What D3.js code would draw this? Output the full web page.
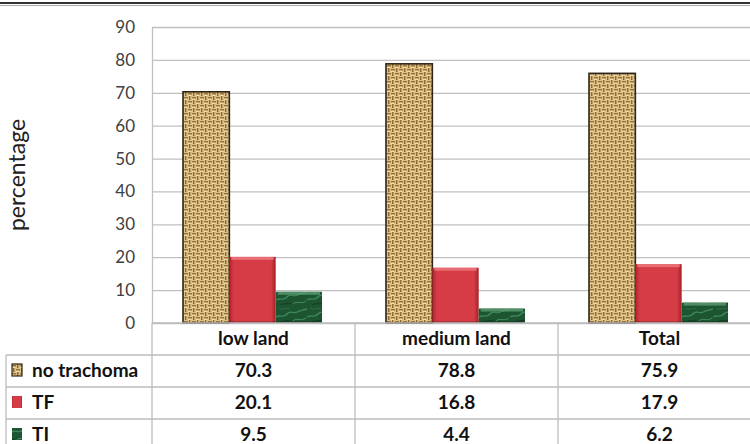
<!DOCTYPE html>
<html>
<head>
<meta charset="utf-8">
<script src="https://cdn.jsdelivr.net/npm/d3@7"></script>
<style>
  body { margin: 0; background: #fff; }
  text { font-family: Lato, "Open Sans", sans-serif; }
</style>
</head>
<body>
<div id="chart"></div>
<script>
const categories = ["low land", "medium land", "Total"];
const seriesNames = ["no trachoma", "TF", "TI"];
const noTrachoma = [70.3, 78.8, 75.9];
const tfValues = [20.1, 16.8, 17.9];
const tiValues = [9.5, 4.4, 6.2];
const yTickValues = [0, 10, 20, 30, 40, 50, 60, 70, 80, 90];

const seriesValues = [noTrachoma, tfValues, tiValues];

let width = 750, height = 444;
let plot = { left: 152, right: 761, top: 27, bottom: 323 };
let rowH = 32;

let svg = d3.select("#chart").append("svg")
  .attr("width", width)
  .attr("height", height);

let defs = svg.append("defs");

// wheat weave texture
let weave = defs.append("pattern")
  .attr("id", "weave").attr("patternUnits", "userSpaceOnUse")
  .attr("width", 8).attr("height", 8);
weave.append("rect").attr("width", 8).attr("height", 8).attr("fill", "#dcc088");
[[0, 1, 4, 1.4], [4, 5, 4, 1.4]].forEach(function (d) {
  weave.append("rect").attr("x", d[0]).attr("y", d[1]).attr("width", d[2]).attr("height", d[3]).attr("fill", "#9a7434");
});
[[5, 0, 1.4, 4], [1, 4, 1.4, 4]].forEach(function (d) {
  weave.append("rect").attr("x", d[0]).attr("y", d[1]).attr("width", d[2]).attr("height", d[3]).attr("fill", "#8d692e");
});
weave.append("rect").attr("x", 0).attr("y", 3).attr("width", 3).attr("height", 1).attr("fill", "#f2e0b2");
weave.append("rect").attr("x", 4).attr("y", 7).attr("width", 3).attr("height", 1).attr("fill", "#f2e0b2");

// green marble texture
let marble = defs.append("pattern")
  .attr("id", "marble").attr("patternUnits", "userSpaceOnUse")
  .attr("width", 31).attr("height", 17);
marble.append("rect").attr("width", 31).attr("height", 17).attr("fill", "#1d5431");
marble.append("path").attr("d", "M0,11 C4,8 7,13 12,7 C15,4 19,9 23,5 L31,3").attr("stroke", "#3d8758").attr("stroke-width", 1.3).attr("fill", "none");
marble.append("path").attr("d", "M3,2 C7,5 9,1 14,3").attr("stroke", "#2c6d44").attr("stroke-width", 1).attr("fill", "none");
marble.append("path").attr("d", "M17,15 C21,11 25,16 30,12").attr("stroke", "#4a9466").attr("stroke-width", 0.9).attr("fill", "none");
marble.append("path").attr("d", "M5,16 C9,13 12,16 15,14").attr("stroke", "#153f25").attr("stroke-width", 1.3).attr("fill", "none");

// red bevel gradient
let redGrad = defs.append("linearGradient").attr("id", "redGrad")
  .attr("x1", 0).attr("x2", 1).attr("y1", 0).attr("y2", 0);
redGrad.append("stop").attr("offset", "0%").attr("stop-color", "#b3232b");
redGrad.append("stop").attr("offset", "10%").attr("stop-color", "#d63c45");
redGrad.append("stop").attr("offset", "90%").attr("stop-color", "#d63c45");
redGrad.append("stop").attr("offset", "100%").attr("stop-color", "#a51f27");

const fills = { "no trachoma": "url(#weave)", "TF": "url(#redGrad)", "TI": "url(#marble)" };
const highlights = { "no trachoma": null, "TF": "#ec7a80", "TI": "#5c9c72" };

let x0 = d3.scaleBand().domain(categories).range([plot.left, plot.right]);
let x1 = d3.scaleBand().domain(seriesNames).range([31, 170]);
let y = d3.scaleLinear().domain([0, 90]).range([plot.bottom, plot.top]);

// top border
svg.append("line").attr("x1", 0).attr("x2", width).attr("y1", 3).attr("y2", 3)
  .attr("stroke", "#333").attr("stroke-width", 2.2);
svg.append("line").attr("x1", 0).attr("x2", width).attr("y1", 5.5).attr("y2", 5.5)
  .attr("stroke", "#aaa").attr("stroke-width", 1);

// gridlines
svg.append("g").attr("transform", "translate(" + plot.left + ",0)")
  .call(d3.axisLeft(y).tickValues(yTickValues).tickSize(-(width - plot.left)).tickFormat(""))
  .call(function (g) {
    g.select(".domain").remove();
    g.selectAll(".tick line").attr("stroke", "#c0c0c0").attr("stroke-width", 1.3);
  });

// y tick labels
svg.append("g").attr("transform", "translate(" + plot.left + ",0)")
  .call(d3.axisLeft(y).tickValues(yTickValues).tickSize(0).tickPadding(17))
  .call(function (g) {
    g.select(".domain").attr("stroke", "#c0c0c0").attr("stroke-width", 1.3);
    g.selectAll("text").attr("font-family", "Lato, sans-serif").attr("font-size", 17)
      .attr("fill", "#404040");
  });

svg.append("text")
  .attr("transform", "translate(25," + 175 + ") rotate(-90)")
  .attr("text-anchor", "middle")
  .attr("font-size", 23)
  .attr("fill", "#222")
  .text("percentage");

// bars
let groups = svg.selectAll(".cat")
  .data(categories)
  .enter().append("g")
  .attr("transform", function (d) { return "translate(" + x0(d) + ",0)"; });

groups.selectAll(".bar")
  .data(function (c, i) {
    return seriesNames.map(function (s, j) { return { s: s, v: seriesValues[j][i] }; });
  })
  .enter().each(function (d) {
    let g = d3.select(this);
    let bx = x1(d.s), bw = x1.bandwidth(), by = y(d.v), bh = y(0) - y(d.v);
    g.append("rect").attr("x", bx).attr("y", by).attr("width", bw).attr("height", bh)
      .attr("fill", fills[d.s])
      .attr("stroke", d.s === "no trachoma" ? "#2e2418" : "none")
      .attr("stroke-width", 1.6);
    if (highlights[d.s]) {
      g.append("rect").attr("x", bx + 2).attr("y", by).attr("width", bw - 4).attr("height", 3)
        .attr("fill", highlights[d.s]).attr("opacity", 0.8);
      g.append("rect").attr("x", bx).attr("y", by + bh - 2).attr("width", bw).attr("height", 2)
        .attr("fill", "#000").attr("opacity", 0.18);
    }
  });

// data table
let table = svg.append("g");
let lineColor = "#bdbdbd";
// horizontal rules
[plot.bottom + rowH, plot.bottom + 2 * rowH, plot.bottom + 3 * rowH].forEach(function (yy) {
  table.append("line").attr("x1", 6).attr("x2", width).attr("y1", yy).attr("y2", yy)
    .attr("stroke", lineColor).attr("stroke-width", 1.3);
});
// axis line
table.append("line").attr("x1", plot.left).attr("x2", width).attr("y1", plot.bottom).attr("y2", plot.bottom)
  .attr("stroke", lineColor).attr("stroke-width", 1.3);
// vertical rules
table.append("line").attr("x1", 6).attr("x2", 6).attr("y1", plot.bottom + rowH).attr("y2", height)
  .attr("stroke", lineColor).attr("stroke-width", 1.3);
categories.forEach(function (c) {
  table.append("line").attr("x1", x0(c)).attr("x2", x0(c)).attr("y1", plot.bottom).attr("y2", height)
    .attr("stroke", lineColor).attr("stroke-width", 1.3);
});

// header row
table.selectAll(".hdr").data(categories).enter().append("text")
  .attr("x", function (d) { return x0(d) + x0.bandwidth() / 2; })
  .attr("y", plot.bottom + rowH / 2 + 6)
  .attr("text-anchor", "middle")
  .attr("font-size", 19).attr("font-weight", "bold").attr("fill", "#111")
  .text(function (d) { return d; });

seriesNames.forEach(function (s, j) {
  let cy = plot.bottom + rowH * (j + 1) + rowH / 2;
  table.append("rect").attr("x", 12).attr("y", cy - 7).attr("width", 10).attr("height", 12)
    .attr("fill", fills[s]).attr("stroke", j === 0 ? "#2e2418" : "none").attr("stroke-width", 1.2);
  table.append("text").attr("x", 32).attr("y", cy + 6)
    .attr("font-size", 19).attr("font-weight", "bold").attr("fill", "#111")
    .text(s);
  table.selectAll(".v" + j).data(seriesValues[j]).enter().append("text")
    .attr("x", function (d, i) { return x0(categories[i]) + x0.bandwidth() / 2; })
    .attr("y", cy + 6)
    .attr("text-anchor", "middle")
    .attr("font-size", 19).attr("font-weight", "bold").attr("fill", "#111")
    .text(function (d) { return d.toFixed(1); });
});
</script>
</body>
</html>
